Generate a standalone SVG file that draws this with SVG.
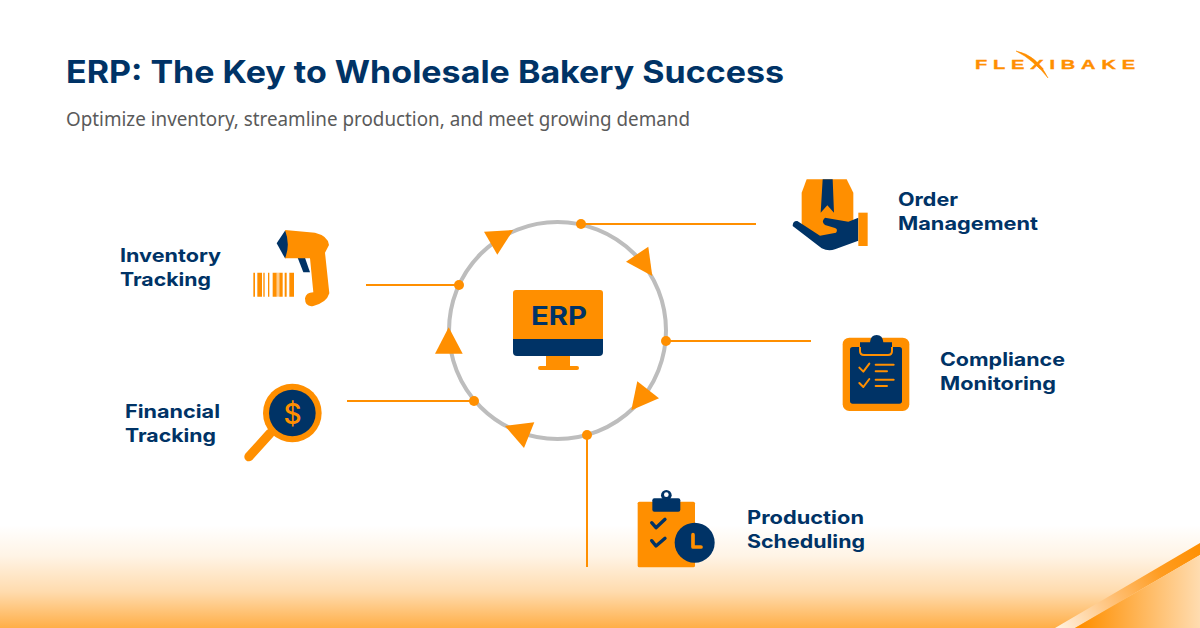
<svg xmlns="http://www.w3.org/2000/svg" width="1200" height="628" viewBox="0 0 1200 628">
<style>
.o{fill:#ff8f00}.n{fill:#003366}
.t{font-family:Inter,"Liberation Sans",sans-serif;font-weight:700;fill:#003366;font-size:18.5px}
.c{stroke:#ff8f00;stroke-width:2;fill:none}
.ck{fill:none;stroke-linecap:round;stroke-linejoin:round}
</style>
<defs>
<linearGradient id="bg" x1="0" y1="0" x2="0" y2="1"><stop offset="0" stop-color="#ff8f00" stop-opacity="0"/><stop offset=".3" stop-color="#ff8f00" stop-opacity=".1"/><stop offset=".65" stop-color="#ff8f00" stop-opacity=".32"/><stop offset="1" stop-color="#ff8f00" stop-opacity=".72"/></linearGradient>
<linearGradient id="band" gradientUnits="userSpaceOnUse" x1="1200" y1="543" x2="1060" y2="628"><stop offset="0" stop-color="#ff8f00"/><stop offset=".3" stop-color="#ff9c20"/><stop offset=".65" stop-color="#ffc27a"/><stop offset="1" stop-color="#fff0dd"/></linearGradient>
<linearGradient id="tri" gradientUnits="userSpaceOnUse" x1="1080" y1="600" x2="1200" y2="600"><stop offset="0" stop-color="#ff8f00"/><stop offset="1" stop-color="#ffdcb0"/></linearGradient>
</defs>
<rect width="1200" height="628" fill="#fff"/>
<rect id="footer" x="0" y="525" width="1200" height="103" fill="url(#bg)"/>
<polygon points="1055,628 1200,543 1200,555 1075,628" fill="url(#band)"/>
<polygon points="1075,628 1200,555 1200,628" fill="url(#tri)"/>
<text x="66" y="83" textLength="718" lengthAdjust="spacingAndGlyphs" font-family="Inter,'Liberation Sans',sans-serif" font-weight="700" font-size="31" fill="#003366">ERP: The Key to Wholesale Bakery Success</text>
<text x="66" y="126" textLength="624" lengthAdjust="spacingAndGlyphs" font-family="'Noto Sans','Liberation Sans',sans-serif" font-size="20" fill="#5a5a5a">Optimize inventory, streamline production, and meet growing demand</text>
<g id="logo">
<text transform="translate(975 68.7) scale(1.6 1)" x="0" y="0" textLength="100" lengthAdjust="spacing" font-family="'Liberation Sans',sans-serif" font-weight="700" font-size="12.5" fill="#ff8f00" stroke="#ff8f00" stroke-width=".35">FLEXIBAKE</text>
<path d="M1016 51Q1037 55 1048 78Q1034 60 1016 51Z" class="o" stroke="#ff8f00" stroke-width=".5"/>
</g>
<g id="connectors">
<circle cx="557.5" cy="330.5" r="108.5" fill="none" stroke="#bdbdbd" stroke-width="4"/>
<path class="c" d="M581 224H756M366 285H459M666 341H811M347 401H474M587 435V567"/>
<g class="o">
<polygon points="484,231.7 513.3,230 497.3,254.7"/>
<polygon points="626,261.7 648.3,246.7 652.3,276"/>
<polygon points="637.3,381.3 659,398.3 631.3,410.3"/>
<polygon points="505,426 534.3,422.3 524,448"/>
<polygon points="448.7,327.3 462.7,353.7 435,353.7"/>
<circle cx="581" cy="224" r="5"/><circle cx="459" cy="285" r="5"/><circle cx="666" cy="341" r="5"/><circle cx="474" cy="401" r="5"/><circle cx="587" cy="435" r="5"/>
</g>
</g>
<g id="erp">
<path class="o" d="M516 290H600a3 3 0 0 1 3 3V339H513V293a3 3 0 0 1 3-3Z"/>
<path class="n" d="M513 339H603V352a4 4 0 0 1-4 4H517a4 4 0 0 1-4-4Z"/>
<rect class="o" x="546" y="356" width="24" height="11"/>
<rect class="o" x="538" y="366" width="41" height="4" rx="2"/>
<text x="531" y="325" textLength="56" lengthAdjust="spacingAndGlyphs" font-family="Inter,'Liberation Sans',sans-serif" font-weight="700" font-size="25" fill="#003366">ERP</text>
</g>
<g id="inventory-tracking">
<text class="t" x="120" y="262" textLength="101" lengthAdjust="spacingAndGlyphs">Inventory</text>
<text class="t" x="120" y="286" textLength="91" lengthAdjust="spacingAndGlyphs">Tracking</text>
<g transform="translate(230 210) scale(.33333)">
<path class="n" d="M165 62L140 100L165 145L182 140V70Z"/>
<path class="n" d="M203 143H225L240 187H220Z"/>
<path class="o" d="M165 60L255 68Q295 78 297 105L285 128L298 250Q290 278 250 288Q225 292 225 265Q228 247 250 247L240 145H165Q182 105 165 60Z"/>
<path class="o" d="M70 188h5v72h-5zM82 188h14v72h-14zM100 188h4v72h-4zM114 188h4v72h-4zM128 188h12v72h-12zM148 188h10v72h-10zM164 188h6v72h-6zM178 188h14v72h-14z"/>
<path class="o" opacity=".45" d="M140 188h8v72h-8z"/>
</g>
</g>
<g id="financial-tracking">
<text class="t" x="125" y="418" textLength="95" lengthAdjust="spacingAndGlyphs">Financial</text>
<text class="t" x="125" y="442" textLength="91" lengthAdjust="spacingAndGlyphs">Tracking</text>
<g transform="translate(235 375) scale(.33333)">
<path d="M105 175L42 245" stroke="#ff8f00" stroke-width="28" stroke-linecap="round" fill="none"/>
<circle class="o" cx="172" cy="114" r="88"/>
<circle class="n" cx="172" cy="114" r="70"/>
</g>
<text x="292.5" y="424" text-anchor="middle" font-family="Inter,'Liberation Sans',sans-serif" font-weight="500" font-size="28" fill="#ff8f00">$</text>
</g>
<g id="order-management">
<text class="t" x="898" y="206" textLength="60" lengthAdjust="spacingAndGlyphs">Order</text>
<text class="t" x="898" y="230" textLength="140" lengthAdjust="spacingAndGlyphs">Management</text>
<g transform="translate(770 170) scale(.33333)">
<path class="o" d="M110 28H230L250 68V170L200 195L150 205L95 165V68Z"/>
<path class="n" d="M158 28H188L192 128L172 106L152 128Z"/>
<path class="n" d="M68 168Q68 152 82 153L150 197L198 188Q205 178 195 174L165 165Q152 155 165 143L235 155L265 143V212L195 238Q175 245 155 235Z"/>
<rect class="o" x="265" y="128" width="28" height="100"/>
</g>
</g>
<g id="compliance-monitoring">
<text class="t" x="940" y="366" textLength="125" lengthAdjust="spacingAndGlyphs">Compliance</text>
<text class="t" x="940" y="390" textLength="116" lengthAdjust="spacingAndGlyphs">Monitoring</text>
<g transform="translate(830 325) scale(.33333)">
<rect class="o" x="38" y="38" width="200" height="220" rx="20"/>
<rect class="n" x="60" y="66" width="156" height="170" rx="8"/>
<path class="n" d="M90 52H120Q122 30 140 30Q158 30 160 52H186V78Q186 90 174 90H102Q90 90 90 78Z"/>
<path d="M90 66V78Q90 90 102 90H174Q186 90 186 78V66" fill="none" stroke="#ff8f00" stroke-width="6"/>
<g class="ck" stroke="#ff8f00" stroke-width="6">
<path d="M88 128L100 140L118 116M88 174L100 186L118 162M137 119H191M137 139H171M137 164H191M137 183H171"/>
</g>
</g>
</g>
<g id="production-scheduling">
<text class="t" x="747" y="524" textLength="117" lengthAdjust="spacingAndGlyphs">Production</text>
<text class="t" x="747" y="548" textLength="118" lengthAdjust="spacingAndGlyphs">Scheduling</text>
<g transform="translate(625 480) scale(.33333)">
<rect class="o" x="38" y="65" width="172" height="197" rx="5"/>
<rect class="n" x="82" y="55" width="84" height="40" rx="6"/>
<circle class="n" cx="124" cy="46" r="16"/>
<circle cx="124" cy="44" r="7" fill="#fff"/>
<path class="ck" stroke="#003366" stroke-width="10" d="M80 128L93 143L120 118M80 182L93 198L120 175"/>
<circle class="n" cx="209" cy="188" r="60"/>
<path class="ck" stroke="#ff8f00" stroke-width="11" d="M204 164V201H228"/>
</g>
</g>
</svg>
